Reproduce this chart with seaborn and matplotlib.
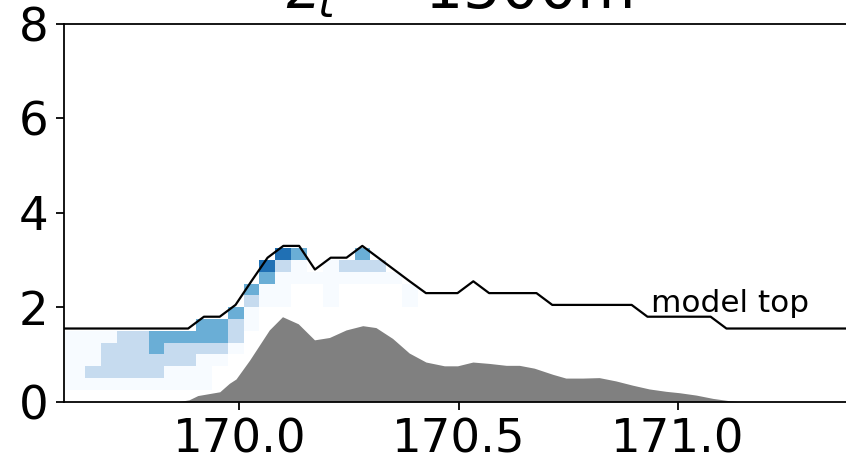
import numpy as np
import matplotlib
matplotlib.use("Agg")
import matplotlib.pyplot as plt
import seaborn as sns

# ---------------- data ----------------
# longitude edges of the cloud-level grid cells (deg E)
lon_edges = [169.5763, 169.6124, 169.6485, 169.6846, 169.7207, 169.7568, 169.7929,
             169.8290, 169.8651, 169.9012, 169.9373, 169.9734, 170.0095, 170.0456,
             170.0817, 170.1178, 170.1539, 170.1900, 170.2261, 170.2622, 170.2983,
             170.3344, 170.3705, 170.4066, 170.4427]
# height edges of the grid cells (km)
height_edges = [0.25, 0.5, 0.75, 1.0, 1.25, 1.5, 1.75, 2.0, 2.25, 2.5, 2.75, 3.0, 3.25, 3.5]

# cloud level per cell (0 = none), rows bottom -> top, 24 columns
n = np.nan
cloud_level = [
    [1, 1, 1, 1, 1, 1, 1, 1, 1, 1, n, n, n, n, n, n, n, n, n, n, n, n, n, n],
    [1, 1, 2, 2, 2, 2, 2, 1, 1, 1, n, n, n, n, n, n, n, n, n, n, n, n, n, n],
    [1, 1, 1, 2, 2, 2, 2, 2, 2, 1, 1, n, n, n, n, n, n, n, n, n, n, n, n, n],
    [1, 1, 1, 2, 2, 2, 3, 2, 2, 2, 2, 1, n, n, n, n, n, n, n, n, n, n, n, n],
    [1, 1, 1, 1, 2, 2, 3, 3, 3, 3, 3, 2, n, n, n, n, n, n, n, n, n, n, n, n],
    [n, n, n, n, n, n, n, n, n, 3, 3, 2, 1, n, n, n, n, n, n, n, n, n, n, n],
    [n, n, n, n, n, n, n, n, n, n, n, 3, 1, n, n, n, n, n, n, n, n, n, n, n],
    [n, n, n, n, n, n, n, n, n, n, n, n, 2, 1, 1, n, n, 1, n, n, n, n, 1, n],
    [n, n, n, n, n, n, n, n, n, n, n, n, 3, 1, 1, n, n, 1, n, n, n, n, 1, n],
    [n, n, n, n, n, n, n, n, n, n, n, n, n, 3, 1, 1, 1, 1, 1, 1, 1, 1, n, n],
    [n, n, n, n, n, n, n, n, n, n, n, n, n, 4, 2, 1, n, 1, 2, 2, 2, n, n, n],
    [n, n, n, n, n, n, n, n, n, n, n, n, n, n, 4, 3, n, n, n, 3, n, n, n, n],
    [n, n, n, n, n, n, n, n, n, n, n, n, n, n, n, n, n, n, n, n, n, n, n, n],
]

# terrain profile (km)
terrain_lon = [169.60, 169.86, 169.885, 169.905, 169.93, 169.955, 169.977, 169.992,
               170.023, 170.068, 170.098, 170.134, 170.171, 170.205, 170.243, 170.281,
               170.311, 170.349, 170.387, 170.425, 170.467, 170.497, 170.532, 170.570,
               170.608, 170.638, 170.672, 170.714, 170.744, 170.782, 170.820, 170.858,
               170.896, 170.934, 170.972, 171.003, 171.041, 171.079, 171.117, 171.140,
               171.40]
terrain_height = [0.0, 0.0, 0.04, 0.13, 0.17, 0.21, 0.39, 0.48,
                  0.88, 1.52, 1.80, 1.65, 1.31, 1.36, 1.52, 1.61,
                  1.57, 1.34, 1.03, 0.84, 0.76, 0.76, 0.84, 0.81,
                  0.77, 0.77, 0.71, 0.58, 0.50, 0.50, 0.51, 0.44,
                  0.35, 0.27, 0.22, 0.19, 0.14, 0.07, 0.02, 0.0,
                  0.0]

# model top (km)
mt_lon = [169.594, 169.883, 169.919, 169.955, 169.991, 170.027, 170.064, 170.100,
          170.136, 170.172, 170.208, 170.244, 170.280, 170.316, 170.352, 170.388,
          170.425, 170.497, 170.533, 170.569, 170.677, 170.713, 170.894, 170.930,
          171.074, 171.110, 171.400]
mt_top = [1.55, 1.55, 1.80, 1.80, 2.05, 2.55, 3.05, 3.30,
          3.30, 2.80, 3.05, 3.05, 3.30, 3.05, 2.80, 2.55,
          2.30, 2.30, 2.55, 2.30, 2.30, 2.05, 2.05, 1.80,
          1.80, 1.55, 1.55]

title = r"$z_t$ = 1500m"
xticks = [170.0, 170.5, 171.0]
yticks = [0, 2, 4, 6, 8]

# ---------------- plot ----------------
DPI = 160
plt.rcParams["font.family"] = ["DejaVu Sans"]
fig = plt.figure(figsize=(846 / DPI, 463 / DPI), dpi=DPI)
ax = fig.add_axes([0.07565, 0.1324, 0.9334, 0.8158])

ax.pcolormesh(lon_edges, height_edges, np.ma.masked_invalid(np.array(cloud_level, dtype=float)),
              cmap="Blues", vmin=1, vmax=5, zorder=1)
ax.fill_between(terrain_lon, 0, terrain_height, color="gray", lw=0, zorder=2)
sns.lineplot(x=mt_lon, y=mt_top, color="black", lw=1.0, sort=False, estimator=None,
             ax=ax, zorder=3)
ax.text(170.939, 1.90, "model top", fontsize=14, ha="left", va="baseline", zorder=4)

ax.set_xlim(169.6, 171.4)
ax.set_ylim(0, 8)
ax.set_xticks(xticks)
ax.set_xticklabels([f"{t:.1f}" for t in xticks])
ax.set_yticks(yticks)
ax.tick_params(labelsize=21)
ax.set_title(title, fontsize=27, pad=7.2)

fig.savefig("out.png", dpi=DPI)
